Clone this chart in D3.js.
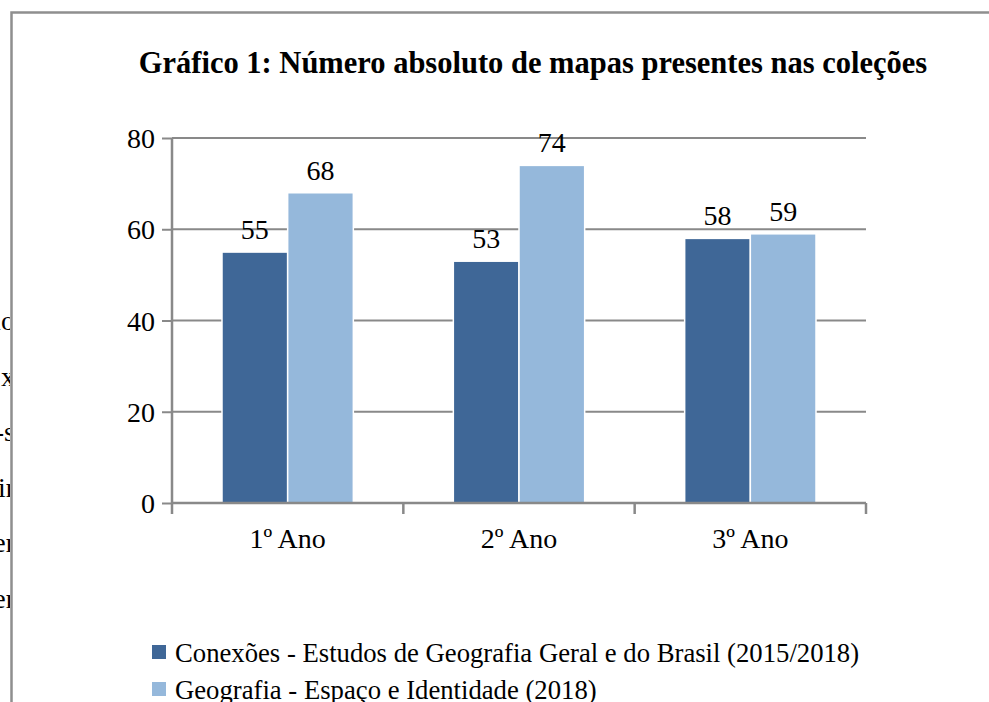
<!DOCTYPE html>
<html lang="pt">
<head>
    <meta charset="UTF-8">
    <title>Gráfico 1</title>
    <script type="text/javascript" src="https://cdnjs.cloudflare.com/ajax/libs/d3/7.8.5/d3.min.js"></script>
    <style>
        body { margin: 0; background: #fff; }
        text { font-family: "Liberation Serif", "Times New Roman", serif; fill: #000; }
    </style>
</head>
<body>
<div id="chart"></div>
<script>
    // data
    var categories = ["1º Ano", "2º Ano", "3º Ano"];
    var seriesNames = ["Conexões - Estudos de Geografia Geral e do Brasil (2015/2018)",
                       "Geografia - Espaço e Identidade (2018)"];
    var conexoes = [55, 53, 58];
    var geografia = [68, 74, 59];
    var yTicks = [0, 20, 40, 60, 80];
    var colors = ["#3f6797", "#95b8db"];
    // bits of the page text cut off by the frame
    var sideText = ["io", "x", "-s", "ir", "er", "er"];

    var width = 989, height = 702;
    var margin = {top: 138, right: 123, bottom: 199, left: 172};

    var svg = d3.select("#chart").append("svg")
        .attr("width", width)
        .attr("height", height);

    // frame of the figure box
    svg.append("path")
        .attr("d", "M11.5," + height + "V12.5H" + width)
        .attr("fill", "none")
        .attr("stroke", "#8f8f8f")
        .attr("stroke-width", 2.5);

    svg.append("clipPath").attr("id", "side")
        .append("rect").attr("x", 0).attr("y", 0).attr("width", 10).attr("height", height);

    svg.append("g").attr("clip-path", "url(#side)")
        .selectAll("text").data(sideText).enter().append("text")
        .attr("x", 15)
        .attr("y", function(d, i) { return 330 + i * 55.5; })
        .attr("text-anchor", "end")
        .style("font-size", "28px")
        .text(function(d) { return d; });

    svg.append("text")
        .attr("x", 533)
        .attr("y", 73)
        .attr("text-anchor", "middle")
        .style("font-size", "30.5px")
        .style("font-weight", "bold")
        .text("Gráfico 1: Número absoluto de mapas presentes nas coleções");

    var x0 = d3.scaleBand()
        .domain(categories)
        .range([margin.left, width - margin.right]);

    var x1 = d3.scaleBand()
        .domain([0, 1])
        .range([50, x0.bandwidth() - 50]);

    var y = d3.scaleLinear()
        .domain([0, 80])
        .range([height - margin.bottom, margin.top]);

    var gray = "#898989";

    // gridlines
    svg.append("g").selectAll("line").data(yTicks.slice(1)).enter().append("line")
        .attr("x1", margin.left).attr("x2", width - margin.right)
        .attr("y1", function(d) { return y(d); })
        .attr("y2", function(d) { return y(d); })
        .attr("stroke", gray)
        .attr("stroke-width", 2);

    var rows = categories.map(function(c, i) {
        return {cat: c, values: [conexoes[i], geografia[i]]};
    });

    var groups = svg.append("g").selectAll("g").data(rows).enter().append("g")
        .attr("transform", function(d) { return "translate(" + x0(d.cat) + ",0)"; });

    groups.selectAll("rect").data(function(d) { return d.values; }).enter().append("rect")
        .attr("x", function(d, i) { return x1(i); })
        .attr("y", function(d) { return y(d); })
        .attr("width", x1.bandwidth())
        .attr("height", function(d) { return y(0) - y(d); })
        .attr("fill", function(d, i) { return colors[i]; })
        .attr("stroke", "#fff")
        .attr("stroke-width", 1.5);

    groups.selectAll("text").data(function(d) { return d.values; }).enter().append("text")
        .attr("x", function(d, i) { return x1(i) + x1.bandwidth() / 2; })
        .attr("y", function(d) { return y(d) - 13; })
        .attr("text-anchor", "middle")
        .style("font-size", "28px")
        .text(function(d) { return d; });

    // axes
    var yAxis = d3.axisLeft(y)
        .tickValues(yTicks)
        .tickSize(10)
        .tickPadding(7)
        .tickSizeOuter(0);

    var gy = svg.append("g")
        .attr("transform", "translate(" + margin.left + ",0)")
        .call(yAxis);
    gy.select(".domain").remove();
    gy.append("line")
        .attr("x1", 0).attr("x2", 0)
        .attr("y1", y(80)).attr("y2", y(0) + 11)
        .attr("stroke", gray).attr("stroke-width", 2.5);
    gy.selectAll(".tick line").attr("stroke", gray).attr("stroke-width", 2);
    gy.selectAll(".tick text")
        .style("font-size", "28px")
        .attr("dy", "0.34em");

    var gx = svg.append("g")
        .attr("transform", "translate(0," + y(0) + ")");
    gx.append("line")
        .attr("x1", margin.left).attr("x2", width - margin.right)
        .attr("stroke", gray).attr("stroke-width", 2.5);
    gx.selectAll(".sep").data(categories).enter().append("line")
        .attr("class", "sep")
        .attr("x1", function(d) { return x0(d) + x0.bandwidth(); })
        .attr("x2", function(d) { return x0(d) + x0.bandwidth(); })
        .attr("y1", 0).attr("y2", 11)
        .attr("stroke", gray).attr("stroke-width", 2.5);
    gx.selectAll(".lbl").data(categories).enter().append("text")
        .attr("class", "lbl")
        .attr("x", function(d) { return x0(d) + x0.bandwidth() / 2; })
        .attr("y", 45)
        .attr("text-anchor", "middle")
        .style("font-size", "28px")
        .text(function(d) { return d; });

    // legend
    var legend = svg.append("g").selectAll("g").data(seriesNames).enter().append("g")
        .attr("transform", function(d, i) { return "translate(152," + (645 + i * 37) + ")"; });
    legend.append("rect")
        .attr("width", 14).attr("height", 14)
        .attr("fill", function(d, i) { return colors[i]; });
    legend.append("text")
        .attr("x", 23)
        .attr("y", 17)
        .style("font-size", "26.7px")
        .text(function(d) { return d; });
</script>
</body>
</html>
